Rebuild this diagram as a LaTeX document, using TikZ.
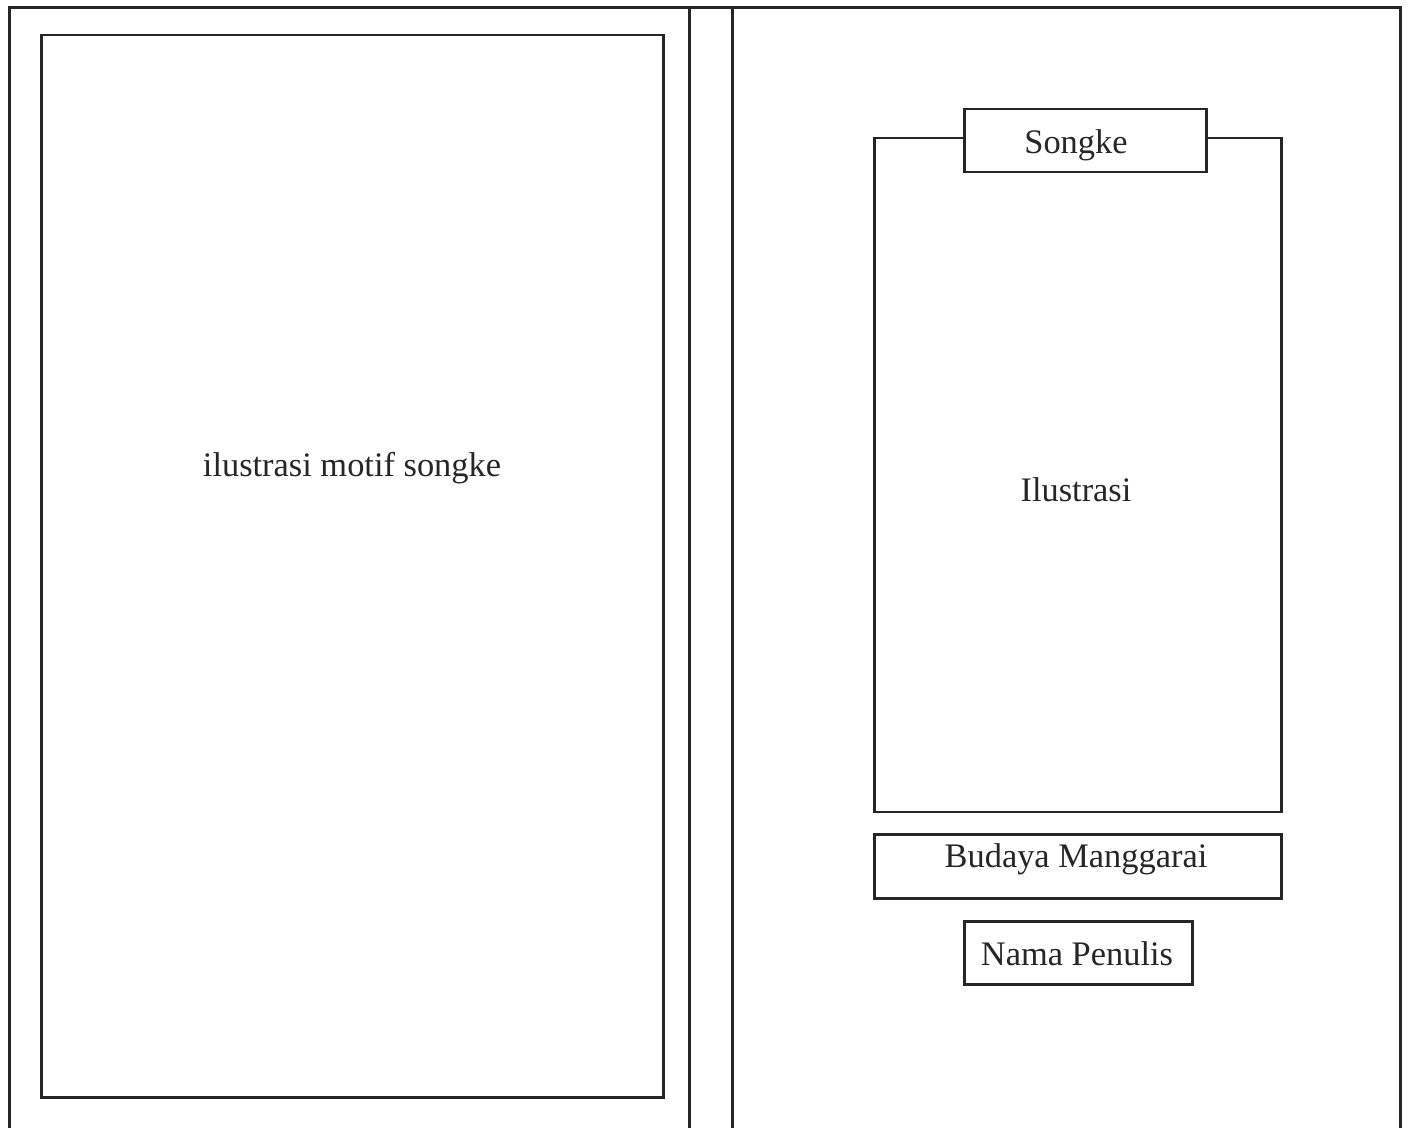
\documentclass[tikz,border=0pt]{standalone}
\usepackage{fontspec}
\setmainfont{Liberation Serif}
\begin{document}
\begin{tikzpicture}[x=0.5pt,y=-0.5pt,
  frame/.style={draw=black!85,line width=1.25pt},
  lbl/.style={font=\fontsize{17.2}{20}\selectfont,text=black!85},
  boxn/.style={frame,fill=white,rectangle,inner sep=0pt,anchor=north west}]
\useasboundingbox[fill=white] (0,0) rectangle (1410,1128);
% outer frame (open at bottom)
\draw[frame,line width=1.5pt] (9,1140) -- (9,8) -- (1400,8) -- (1400,1140);
\draw[frame,line width=1.5pt] (689,8) -- (689,1140);
\draw[frame,line width=1.5pt] (732,8) -- (732,1140);
% left page
\node[boxn,minimum width=311pt,minimum height=531pt] (left) at (40,34) {};
\node[lbl] (lefttxt) at (352,468) {ilustrasi motif songke};
% right page
\node[boxn,minimum width=203.5pt,minimum height=337pt] (ilu) at (873,137) {};
\node[lbl] (ilutxt) at (1076,490) {Ilustrasi};
\node[boxn,minimum width=121pt,minimum height=31.5pt] (songke) at (963,108) {};
\node[lbl] (songketxt) at (1076,145) {Songke};
\node[boxn,minimum width=203.5pt,minimum height=32pt] (budaya) at (873,833) {};
\node[lbl] (budayatxt) at (1076,859) {Budaya Manggarai};
\node[boxn,minimum width=114pt,minimum height=31.5pt] (nama) at (963,920) {};
\node[lbl] (namatxt) at (1077,954) {Nama Penulis};
\end{tikzpicture}
\end{document}
